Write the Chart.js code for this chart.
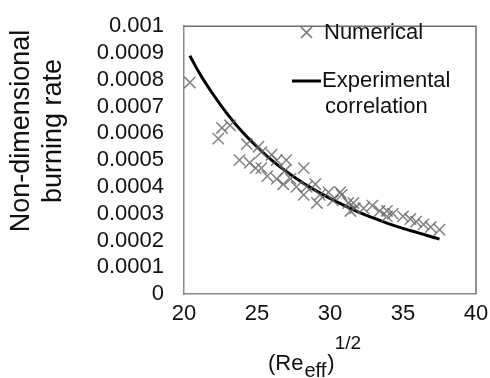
<!DOCTYPE html>
<html>
<head>
<meta charset="utf-8">
<script src="https://cdn.jsdelivr.net/npm/chart.js@4"></script>
<style>
  html, body { margin: 0; padding: 0; background: #fff; }
  #wrap { width: 490px; height: 378px; }
</style>
</head>
<body>
<div id="wrap"><canvas id="myChart1"></canvas></div>
<script>
// numerical results (x = sqrt(Re_eff), y = burning rate)
const numX = [20.4, 22.35, 22.6, 23.15, 23.8, 24.3, 24.5, 24.9, 25.1, 25.3, 25.3, 25.7, 26.0, 26.35, 26.35, 26.8, 26.9, 27.0, 27.3, 27.7,
  28.2, 28.2, 28.4, 29.0, 29.1, 29.3, 29.9, 30.2, 30.7, 30.8, 31.25, 31.4, 31.6, 31.7, 32.3, 32.9, 33.4, 33.9, 33.9, 34.3,
  35.0, 35.5, 35.9, 36.4, 36.9, 37.5];
const numY = [0.00079, 0.00058, 0.00062, 0.00063, 0.00050, 0.00056, 0.00049, 0.00047, 0.00055, 0.00047, 0.00053, 0.00044, 0.00052, 0.00050, 0.00043, 0.00041, 0.00046, 0.00050, 0.00043, 0.00040,
  0.00047, 0.00037, 0.00040, 0.00041, 0.00034, 0.00037, 0.00038, 0.00035, 0.00038, 0.00037, 0.00034, 0.00031, 0.00034, 0.00032, 0.00032, 0.00033, 0.00031, 0.00031, 0.00029, 0.00030,
  0.00029, 0.00028, 0.00027, 0.00026, 0.00025, 0.00024];

// experimental correlation curve
const expX = [20.4, 21, 22, 23, 24, 25, 26, 27, 28, 29, 30, 31, 32, 33, 34, 35, 36, 37, 37.5];
const expY = [0.00089, 0.00083, 0.000745, 0.00067, 0.000605, 0.00055, 0.0005, 0.000458, 0.00042, 0.000387, 0.000357, 0.00033, 0.000305, 0.000283, 0.000263, 0.000245, 0.000229, 0.000213, 0.000205];

const xTicks = [20, 25, 30, 35, 40];
const yTicks = [0, 0.0001, 0.0002, 0.0003, 0.0004, 0.0005, 0.0006, 0.0007, 0.0008, 0.0009, 0.001];
const yLabels = ['0', '0.0001', '0.0002', '0.0003', '0.0004', '0.0005', '0.0006', '0.0007', '0.0008', '0.0009', '0.001'];

const FONT = 'Liberation Sans, Arial, sans-serif';

let numPts = [];
for (let i = 0; i < numX.length; i++) numPts.push({x: numX[i], y: numY[i]});
let expPts = [];
for (let i = 0; i < expX.length; i++) expPts.push({x: expX[i], y: expY[i]});

// box, legend and axis titles
const decor = {
  id: 'decor',
  afterDraw(chart) {
    const c = chart.ctx;
    const a = chart.chartArea;
    c.save();
    c.strokeStyle = '#6f6f6f';
    c.lineWidth = 1.5;
    c.beginPath();
    c.moveTo(a.left, a.top);
    c.lineTo(a.right, a.top);
    c.lineTo(a.right, a.bottom);
    c.stroke();

    // legend
    c.fillStyle = '#111';
    c.font = '22px ' + FONT;
    c.textBaseline = 'middle';
    c.textAlign = 'left';
    c.strokeStyle = '#707070';
    c.lineWidth = 1.5;
    c.beginPath();
    c.moveTo(301, 27); c.lineTo(312, 38);
    c.moveTo(312, 27); c.lineTo(301, 38);
    c.stroke();
    c.fillText('Numerical', 324, 33);
    c.strokeStyle = '#000';
    c.lineWidth = 3;
    c.beginPath();
    c.moveTo(292, 81); c.lineTo(321, 81);
    c.stroke();
    c.fillText('Experimental', 322, 81);
    c.fillText('correlation', 325, 107);

    // y title
    c.save();
    c.rotate(-Math.PI / 2);
    c.textAlign = 'center';
    c.font = '27px ' + FONT;
    c.fillText('Non-dimensional', -131, 22);
    c.fillText('burning rate', -131, 54);
    c.restore();

    // x title with subscript and superscript
    c.textBaseline = 'alphabetic';
    c.textAlign = 'left';
    let x = 268;
    c.font = '22px ' + FONT;
    c.fillText('(Re', x, 370);
    x += c.measureText('(Re').width + 1;
    c.font = '20px ' + FONT;
    c.fillText('eff', x, 377);
    x += c.measureText('eff').width + 1;
    c.font = '22px ' + FONT;
    c.fillText(')', x, 370);
    x += c.measureText(')').width;
    c.font = '19px ' + FONT;
    c.fillText('1/2', x, 349);
    c.restore();
  }
};

new Chart(document.getElementById('myChart1'), {
  type: 'scatter',
  data: {
    datasets: [
      {
        label: 'Numerical',
        data: numPts,
        pointStyle: 'crossRot',
        pointRadius: 8,
        pointBorderWidth: 1.5,
        borderColor: 'rgba(100,100,100,0.8)',
        backgroundColor: 'rgba(100,100,100,0.8)'
      },
      {
        label: 'Experimental correlation',
        data: expPts,
        showLine: true,
        pointRadius: 0,
        borderColor: '#000',
        borderWidth: 3,
        cubicInterpolationMode: 'monotone'
      }
    ]
  },
  options: {
    responsive: true,
    maintainAspectRatio: false,
    animation: false,
    layout: { padding: { top: 16, right: 14, left: 0, bottom: 0 } },
    plugins: { legend: { display: false }, tooltip: { enabled: false } },
    scales: {
      x: {
        type: 'linear',
        min: 20, max: 40,
        afterFit: s => { s.height = 84; },
        afterBuildTicks: s => { s.ticks = xTicks.map(v => ({value: v})); },
        grid: { display: false, drawTicks: true, tickLength: 6, tickColor: '#8a8a8a' },
        border: { color: '#8a8a8a', width: 1.5 },
        ticks: { color: '#111', font: { family: FONT, size: 22 }, padding: 1, maxRotation: 0, autoSkip: false }
      },
      y: {
        type: 'linear',
        min: 0, max: 0.001,
        afterFit: s => { s.width = 184; },
        afterBuildTicks: s => { s.ticks = yTicks.map(v => ({value: v})); },
        grid: { display: false, drawTicks: true, tickLength: 7, tickColor: '#8a8a8a' },
        border: { color: '#8a8a8a', width: 1.5 },
        ticks: {
          color: '#111',
          font: { family: FONT, size: 22 },
          padding: 13,
          autoSkip: false,
          callback: (v, i) => yLabels[i]
        }
      }
    }
  },
  plugins: [decor]
});
</script>
</body>
</html>
